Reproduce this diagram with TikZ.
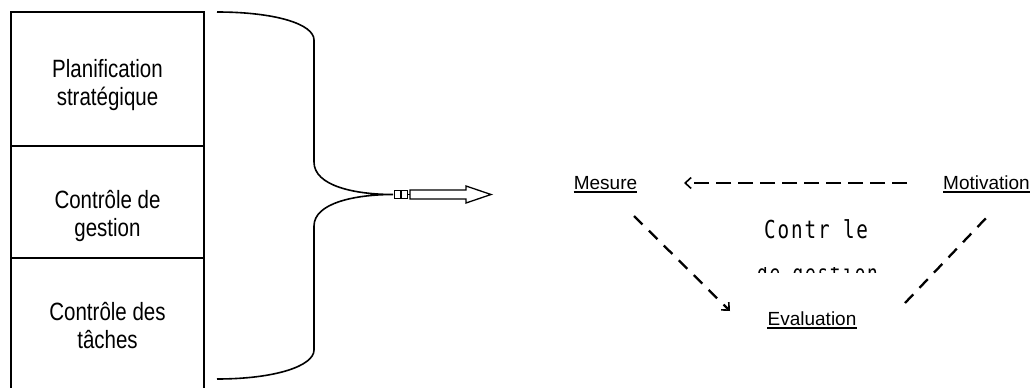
\documentclass[tikz,border=0pt]{standalone}
\usepackage{fontspec}
\setmainfont{Liberation Sans}
\newfontfamily\narrowfont[FakeStretch=0.82]{Liberation Sans}
\newfontfamily\gothfont[FakeStretch=0.78,LetterSpace=7.5]{DejaVu Sans Mono}
\usetikzlibrary{arrows.meta}
\begin{document}
\begin{tikzpicture}[x=1pt,y=-1pt,
  box/.style={draw, line width=1.5pt, rectangle, inner sep=0, anchor=north west, minimum width=193pt},
  lvl/.style={font=\narrowfont\fontsize{25}{28}\selectfont, inner sep=0, anchor=base},
  lab/.style={font=\fontsize{19}{22}\selectfont, inner sep=0, anchor=base},
  goth/.style={font=\gothfont\fontsize{24.7}{30}\selectfont, inner sep=0, anchor=base west},
  uline/.style={line width=1.9pt},
  dsh/.style={line width=2.3pt, dash pattern=on 12pt off 9pt},
  tip/.style={-{Straight Barb[length=6pt,width=11pt,line width=1.6pt]}},
  brace/.style={line width=1.6pt},
  kbox/.style={draw, line width=1.2pt, minimum width=6pt, minimum height=8pt, inner sep=0, anchor=west}]
\useasboundingbox (0,0) rectangle (1036,388);
\clip (0,0) rectangle (1036,388);
% stacked boxes
\node[box, minimum height=134pt] (b1) at (10,11) {};
\node[box, minimum height=112pt] (b2) at (10,145) {};
\node[box, minimum height=143pt] (b3) at (10,257) {};
\node[lvl] (t1a) at (107.5,77) {Planification};
\node[lvl] (t1b) at (107.5,105) {stratégique};
\node[lvl] (t2a) at (107.5,208) {Contrôle de};
\node[lvl] (t2b) at (107.5,236) {gestion};
\node[lvl] (t3a) at (107.5,320) {Contrôle des};
\node[lvl] (t3b) at (107.5,348) {tâches};
% brace
\coordinate (bt) at (217,12);
\coordinate (bm) at (393,194.5);
\coordinate (bb) at (217,379);
\draw[brace] (bt) .. controls (275,12) and (314,24) .. (314,40) -- (314,162)
  .. controls (314,186) and (355,194.5) .. (bm)
  .. controls (355,194.5) and (314,203) .. (314,226) -- (314,350)
  .. controls (314,366) and (275,379) .. (bb);
% block arrow
\node[kbox] (k1) at (394,194.5) {};
\node[kbox] (k2) at (k1.east) {};
\coordinate (s0) at (410,194.5);
\draw[line width=1.2pt] (k2.east) -- (s0);
\draw[line width=1.3pt] (410,190) -- (466,190) -- (466,186) -- (491,194.5) -- (466,203) -- (466,199) -- (410,199) -- cycle;
% right labels
\node[lab] (mes) at (605.5,189) {Mesure};
\node[lab] (mot) at (986.5,189) {Motivation};
\node[lab] (eva) at (812,325) {Evaluation};
\foreach \n in {mes,mot,eva}
  \draw[uline] ([yshift=-3.2pt]\n.base west) -- ([yshift=-3.2pt]\n.base east);
% centre text
\node[goth] (cg1) at (764,238) {Contr le};
\begin{scope}
  \clip (740,267.5) rectangle (900,272.5);
  \node[goth, font=\gothfont\fontsize{22.8}{30}\selectfont] (cg2) at (757,281) {de gestion};
\end{scope}
% dashed connectors
\coordinate (a1s) at (907,183);
\coordinate (a1e) at (684,183);
\coordinate (a2s) at (634,216);
\coordinate (a2e) at (730,311);
\coordinate (a3s) at (905,303);
\coordinate (a3e) at (988,216);
\draw[dsh, line width=1.9pt, dash pattern=on 15pt off 7pt, tip] (a1s) -- (a1e);
\draw[dsh, tip] (a2s) -- (a2e);
\draw[dsh] (a3s) -- (a3e);
\end{tikzpicture}
\end{document}
